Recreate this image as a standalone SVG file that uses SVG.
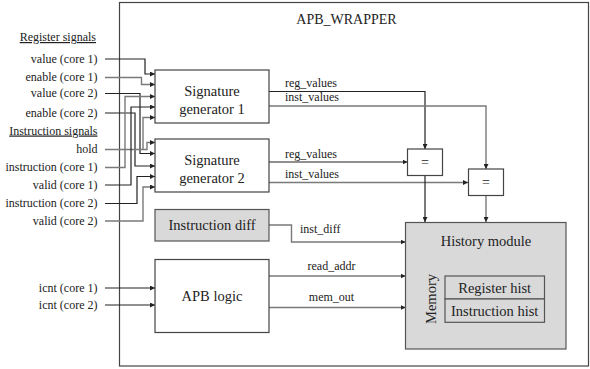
<svg xmlns="http://www.w3.org/2000/svg" width="590" height="369" viewBox="0 0 590 369">
<style>
text{font-family:"Liberation Serif","Times New Roman",serif;fill:#222}
.lbl{font-size:12px;text-anchor:end}
.sig{font-size:12px}
.big{font-size:14.5px;text-anchor:middle}
.box{fill:#fff;stroke:#444;stroke-width:1.2}
.gbox{fill:#d9d9da;stroke:#555;stroke-width:1.2}
.d{fill:none;stroke:#222;stroke-width:1.2}
.g{fill:none;stroke:#7a7a7a;stroke-width:1.4}
</style>
<defs>
<marker id="ah" viewBox="0 0 6 6" refX="6" refY="3" markerWidth="5" markerHeight="5" markerUnits="userSpaceOnUse" orient="auto">
<path d="M0,0 L6,3 L0,6 z" fill="#222"/>
</marker>
</defs>

<g id="wrapper">
<rect x="119.5" y="2.5" width="469" height="363.5" fill="#fff" stroke="#444" stroke-width="1.2"/>
<text x="346.5" y="24" class="big" style="font-size:14px">APB_WRAPPER</text>
</g>

<g id="inputs">
<text x="96" y="41" class="lbl" text-decoration="underline">Register signals</text>
<text x="97.5" y="62.5" class="lbl">value (core 1)</text>
<text x="97.5" y="81" class="lbl">enable (core 1)</text>
<text x="97.5" y="97" class="lbl">value (core 2)</text>
<text x="97.5" y="116.5" class="lbl">enable (core 2)</text>
<text x="97.5" y="134.5" class="lbl" text-decoration="underline">Instruction signals</text>
<text x="97.5" y="153" class="lbl">hold</text>
<text x="97.5" y="171" class="lbl">instruction (core 1)</text>
<text x="97.5" y="188.5" class="lbl">valid (core 1)</text>
<text x="97.5" y="207" class="lbl">instruction (core 2)</text>
<text x="97.5" y="224.5" class="lbl">valid (core 2)</text>
<text x="97.5" y="291.5" class="lbl">icnt (core 1)</text>
<text x="97.5" y="308.5" class="lbl">icnt (core 2)</text>
</g>

<g id="connectors">
<path class="d" d="M105,59 H145 V74 H155" marker-end="url(#ah)"/>
<path class="g" d="M105,77.5 H141.5 V84.5 H155" marker-end="url(#ah)"/>
<path class="d" d="M105,93.5 H140 V153.5 H155" marker-end="url(#ah)"/>
<path class="d" d="M105,113 H135 V166 H155" marker-end="url(#ah)"/>
<path class="g" d="M105,149.5 H147 V142.5 H155" marker-end="url(#ah)"/>
<path class="g" d="M143,149.5 V117.5 H155" marker-end="url(#ah)"/>
<path class="g" d="M105,167.5 H125 V96.5 H155" marker-end="url(#ah)"/>
<path class="d" d="M105,185 H131 V107 H155" marker-end="url(#ah)"/>
<path class="d" d="M105,203.5 H137 V176.5 H155" marker-end="url(#ah)"/>
<path class="g" d="M105,221 H143 V187 H155" marker-end="url(#ah)"/>
<path class="d" d="M105,288 H155" marker-end="url(#ah)"/>
<path class="d" d="M105,305 H155" marker-end="url(#ah)"/>

<path class="d" d="M269,91.5 H425 V149" marker-end="url(#ah)"/>
<path class="g" d="M269,106 H486 V169" marker-end="url(#ah)"/>
<path class="d" d="M269,162 H407.5" marker-end="url(#ah)"/>
<path class="g" d="M269,182.5 H468" marker-end="url(#ah)"/>
<path class="d" d="M425,175.5 V222" marker-end="url(#ah)"/>
<path class="g" d="M486,195.5 V222" marker-end="url(#ah)"/>
<path class="g" d="M269,225 H291.5 V242 H405.5" marker-end="url(#ah)"/>
<path class="g" d="M269,276 H405.5" marker-end="url(#ah)"/>
<path class="g" d="M269,307.5 H405.5" marker-end="url(#ah)"/>

<text x="285" y="86.5" class="sig">reg_values</text>
<text x="285" y="101" class="sig">inst_values</text>
<text x="285" y="157.5" class="sig">reg_values</text>
<text x="285" y="178" class="sig">inst_values</text>
<text x="300" y="233" class="sig">inst_diff</text>
<text x="331.5" y="270" class="sig" text-anchor="middle">read_addr</text>
<text x="331.5" y="300.5" class="sig" text-anchor="middle">mem_out</text>
</g>

<g id="sig_gen_1">
<rect x="155" y="70" width="114" height="53" class="box"/>
<text x="212" y="95.5" class="big">Signature</text>
<text x="212" y="113.5" class="big">generator 1</text>
</g>

<g id="sig_gen_2">
<rect x="155" y="139" width="114" height="53" class="box"/>
<text x="212" y="164.5" class="big">Signature</text>
<text x="212" y="182.5" class="big">generator 2</text>
</g>

<g id="instruction_diff">
<rect x="155" y="209.5" width="114" height="31.5" class="gbox"/>
<text x="212" y="230" class="big">Instruction diff</text>
</g>

<g id="apb_logic">
<rect x="155" y="259.5" width="114" height="73" class="box"/>
<text x="212" y="301" class="big">APB logic</text>
</g>

<g id="compare_1">
<rect x="407.5" y="149" width="35" height="26.5" class="box"/>
<text x="425" y="167" class="big" style="font-size:14px">=</text>
</g>

<g id="compare_2">
<rect x="468.5" y="169" width="35" height="26.5" class="box"/>
<text x="486" y="187" class="big" style="font-size:14px">=</text>
</g>

<g id="history_module">
<rect x="405.5" y="222.5" width="160.5" height="126.5" class="gbox"/>
<text x="486" y="245.5" class="big">History module</text>
<text transform="translate(436,299) rotate(-90)" class="big">Memory</text>
<rect x="445" y="276" width="99.5" height="23" class="gbox"/>
<text x="494.7" y="292.5" class="big">Register hist</text>
<rect x="445" y="299" width="99.5" height="23.3" class="gbox"/>
<text x="494.7" y="315.5" class="big">Instruction hist</text>
</g>
</svg>
